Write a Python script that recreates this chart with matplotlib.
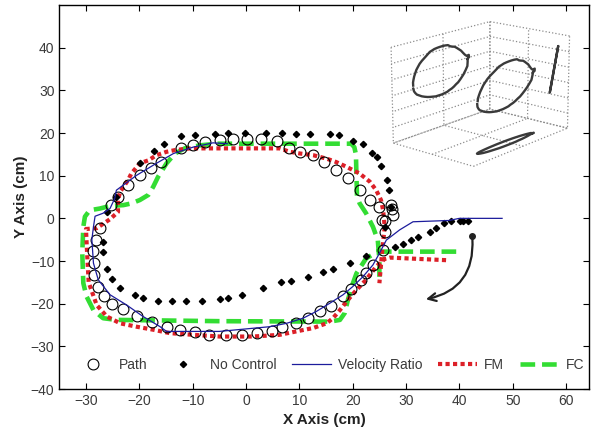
import numpy as np
import matplotlib
matplotlib.use("Agg")
import matplotlib.pyplot as plt

plt.rcParams['font.family'] = ['Liberation Sans', 'DejaVu Sans']

# Path (open circles)
path_x = [-28.5, -28.6, -28.1, -27.4, -25.3, -24.0, -22.1, -19.9, -17.9, -16.0,
          -12.1, -9.9, -7.7, -4.9, -2.5, 0.1, 2.9, 5.8, 8.1, 10.1, 12.6, 14.7,
          16.9, 19.1, 21.3, 23.2, 25.0, 27.2, 27.3, 27.5, 25.4, 26.0, 26.0,
          25.7, 23.8, 22.5, 21.6, 19.7, 18.2, 16.0, 13.8, 11.6, 9.4, 6.7, 4.9,
          2.1, -0.8, -3.8, -6.9, -9.6, -12.4, -14.9, -17.7, -20.5, -23.1, -25.1,
          -26.6, -27.8, -28.5]
path_y = [-10.5, -7.7, -5.1, -2.3, 3.1, 5.1, 7.9, 10.1, 11.7, 13.2,
          16.4, 17.1, 17.9, 18.3, 18.5, 18.6, 18.5, 18.1, 16.4, 15.6, 14.8, 13.2,
          11.3, 9.4, 6.6, 4.3, 2.7, 3.1, 2.3, 0.8, -0.4, -0.6, -3.1,
          -7.4, -10.9, -12.9, -14.4, -16.6, -18.3, -20.5, -21.8, -23.4, -24.6, -25.5, -26.4,
          -26.9, -27.3, -27.3, -27.3, -26.7, -26.1, -25.4, -24.3, -23.0, -21.3, -20.0,
          -18.1, -16.1, -13.3]

# No Control (diamonds)
nc_x = [27.2, 26.8, 26.5, 25.3, 24.5, 23.7, 21.9, 20.1, 17.4, 15.8, 11.9, 9.4,
        6.8, 3.8, -0.2, -3.4, -5.8, -9.6, -12.1, -15.3, -17.2, -19.9, -24.4,
        -26.0, -26.8, -26.8, -26.1, -25.2, -23.6, -20.8, -19.3, -16.5, -13.8,
        -11.3, -8.3, -4.9, -3.4, -0.7, 3.2, 6.6, 8.5, 11.6, 14.4, 16.3, 19.4,
        22.5, 26.0, 28.0, 29.4, 31.0, 32.2, 34.4, 35.6, 37.2, 38.4, 40.1, 40.6, 41.6]
nc_y = [2.7, 6.6, 9.1, 12.2, 14.4, 15.3, 17.4, 18.1, 19.5, 19.8, 19.7, 19.8,
        19.9, 19.9, 19.9, 19.9, 19.8, 19.5, 19.3, 17.4, 15.7, 12.9, 5.1,
        1.5, -5.6, -8.0, -11.9, -14.3, -16.4, -17.9, -18.7, -19.3, -19.3,
        -19.3, -19.3, -19.0, -18.7, -17.9, -16.4, -15.0, -14.6, -13.7, -12.5, -11.9, -10.4,
        -8.8, -2.0, -6.6, -5.9, -5.1, -4.3, -3.1, -2.3, -1.0, -0.6, -0.6, -0.6, -0.6]

# Velocity Ratio (thin line)
vr_x = [-3.5, -6.2, -9.9, -13.6, -16.8, -20.5, -23.0, -24.3, -24.6, -25.5, -26.8,
        -28.3, -28.6, -28.9, -28.6, -27.7, -25.5, -22.4, -19.3, -16.1, -14.9, -5.0,
        0.1, 4.4, 7.6, 10.7, 13.2, 15.7, 18.2, 20.0, 21.9, 23.8, 25.0, 26.3, 28.8,
        31.3, 38.0, 40.0, 48.0]
vr_y = [17.5, 17.7, 16.7, 15.2, 12.9, 10.1, 7.8, 6.6, 4.7, 2.3, 1.2,
        0.5, -2.0, -5.0, -10.5, -14.4, -17.9, -20.3, -23.0, -25.4, -26.5, -26.5,
        -25.9, -25.4, -24.6, -23.4, -21.8, -19.9, -17.9, -16.0, -13.7, -10.9, -8.2, -5.1, -2.7,
        -0.8, -0.5, 0.0, 0.0]

# FM (red dotted)
fm_x = [37.5, 27.0, 26.0, 24.4, 22.5, 20.7, 19.1, 17.6, 16.3, 15.1, 12.6, 9.4,
        6.3, 1.3, -4.9, -9.9, -14.3, -17.4, -20.5, -23.6, -26.1, -28.0, -29.5,
        -29.8, -30.0, -28.0, -25.5, -24.0, -24.0, -23.6, -22.1, -21.5, -19.9,
        -18.3, -16.8, -14.9, -13.3, -10.5, -8.7, 6.3, 8.2, 10.1, 12.6, 15.1,
        16.9, 18.8, 21.3, 23.2, 24.4, 25.3, 25.7, 26.0, 25.5, 25.0]
fm_y = [-9.8, -9.2, -9.5, -11.3, -14.4, -16.8, -19.1, -21.5, -23.4, -24.6, -25.7, -26.5,
        -27.3, -27.7, -27.7, -27.3, -26.9, -26.1, -25.4, -24.6, -23.0, -20.3, -15.0,
        -8.0, -2.5, -2.3, -0.2, 1.5, 4.3, 6.2, 9.0, 10.5, 12.9,
        13.6, 14.8, 15.6, 16.0, 16.4, 16.4, 16.4, 15.6, 15.2, 14.8, 14.0,
        13.2, 12.1, 10.5, 8.6, 6.6, 4.3, 1.9, -2.0, -8.0, -15.2]

# FC (green dashed)
fc_x = [39.4, 24.7, 22.5, 20.7, 19.7, 19.1, 18.5, 17.6, 15.7, -4.9, -24.3, -26.8,
        -28.6, -29.9, -30.5, -30.7, -30.5, -30.2, -29.3, -27.4, -25.5, -23.0, -21.5,
        -19.9, -18.3, -17.4, -16.5, -14.9, -13.3, -11.5, -8.7, -5.5, 19.7, 20.3,
        20.6, 20.8, 21.3, 22.5, 23.8, 24.7, 25.0, 25.0]
fc_y = [-7.8, -7.8, -9.4, -12.9, -16.4, -19.1, -22.2, -23.8, -24.2, -24.1, -23.8, -23.4,
        -21.5, -18.3, -15.2, -8.0, -2.0, 0.4, 1.9, 2.3, 2.9, 3.1, 3.5,
        4.3, 5.5, 7.4, 9.7, 12.9, 15.2, 16.4, 17.1, 17.5, 17.5, 16.7,
        15.0, 5.1, 3.5, 1.2, -2.0, -5.1, -9.8, -14.8]

x_ticks = [-30, -20, -10, 0, 10, 20, 30, 40, 50, 60]
y_ticks = [-40, -30, -20, -10, 0, 10, 20, 30, 40]

red = '#DC2028'
green = '#33DD33'
navy = '#1C1C9C'
txt = '#3A3A3A'

fig = plt.figure(figsize=(5.92, 4.37), dpi=100)
ax = fig.add_axes([0.1002, 0.1098, 0.8948, 0.8787])

ax.plot(path_x, path_y, linestyle='none', marker='o', ms=7.8, mfc='none',
        mec='black', mew=0.8, label='Path', zorder=3)
ax.plot(nc_x, nc_y, linestyle='none', marker='D', ms=3.2, color='black',
        label='No Control', zorder=4)
ax.plot(vr_x, vr_y, color=navy, lw=0.9, label='Velocity Ratio', zorder=5)
ax.plot(fm_x, fm_y, color=red, lw=3.0, linestyle=(0, (1, 0.8)),
        dash_capstyle='butt', label='FM', zorder=2)
ax.plot(fc_x, fc_y, color=green, lw=3.3, linestyle=(0, (3.2, 1.5)),
        dash_capstyle='butt', label='FC', zorder=1)

# curved arrow
ax.plot([42.4], [-4.1], marker='o', ms=4, color='#222222', zorder=6)
ax.annotate('', xy=(33.2, -19.1), xytext=(42.4, -4.1),
            arrowprops=dict(arrowstyle='->', color='#222222', lw=1.6,
                            connectionstyle='arc3,rad=-0.45',
                            mutation_scale=14), zorder=6)

ax.set_xlim(-35, 64.3)
ax.set_ylim(-40, 50)
ax.set_xticks(x_ticks)
ax.set_yticks(y_ticks)
ax.tick_params(direction='in', length=4, width=0.8, top=True, right=True,
               labelsize=10, labelcolor=txt)
for s in ax.spines.values():
    s.set_linewidth(1.0)
ax.set_xlabel('X Axis (cm)', fontsize=11, fontweight='bold', color='#222222', labelpad=4)
ax.set_ylabel('Y Axis (cm)', fontsize=11, fontweight='bold', color='#222222', labelpad=2)

leg = ax.legend(loc='center', bbox_to_anchor=(0.509, 0.0625), ncol=5, frameon=False,
                fontsize=10, handlelength=2.8, handletextpad=0.5,
                columnspacing=1.15, borderpad=0)
for t in leg.get_texts():
    t.set_color(txt)

# inset 3D view of the trajectory: loop lies in a plane parallel to the left wall
ax3 = fig.add_axes([0.585, 0.56, 0.45, 0.46], projection='3d')
ax3.set_facecolor('none')
ax3.patch.set_alpha(0)
ax3.view_init(elev=16, azim=-50)
ax3.set_box_aspect((0.8, 1.15, 0.75))
lx = np.array(path_x)
lz = np.array(path_y)
depth = 0.83 + 0.002 * lz
ink = '#3a3a3a'
ax3.plot(depth, lx, lz, color=ink, lw=1.7)                          # curve
ax3.plot(np.zeros_like(lx), lx, lz, color=ink, lw=1.7)              # left wall
ax3.plot(depth, np.full_like(lx, 50.0), lz, color=ink, lw=1.7)      # right wall
ax3.plot(depth, lx, np.full_like(lz, -58.0), color=ink, lw=1.7)     # floor
ax3.set_xlim(0, 1)
ax3.set_ylim(-48, 50)
ax3.set_zlim(-58, 30)
ax3.set_xticks([0, 0.5, 1])
ax3.set_yticks([-48, 1, 50])
ax3.set_zticks(np.linspace(-58, 30, 7))
for a in (ax3.xaxis, ax3.yaxis, ax3.zaxis):
    a.set_pane_color((1, 1, 1, 0))
    a.line.set_color((1, 1, 1, 0))
    a.set_ticklabels([])
    a._axinfo['grid'].update(color='#8c8c8c', linestyle=':', linewidth=0.9)
    a._axinfo['tick'].update(inward_factor=0, outward_factor=0)

fig.savefig('out.png', dpi=100)
